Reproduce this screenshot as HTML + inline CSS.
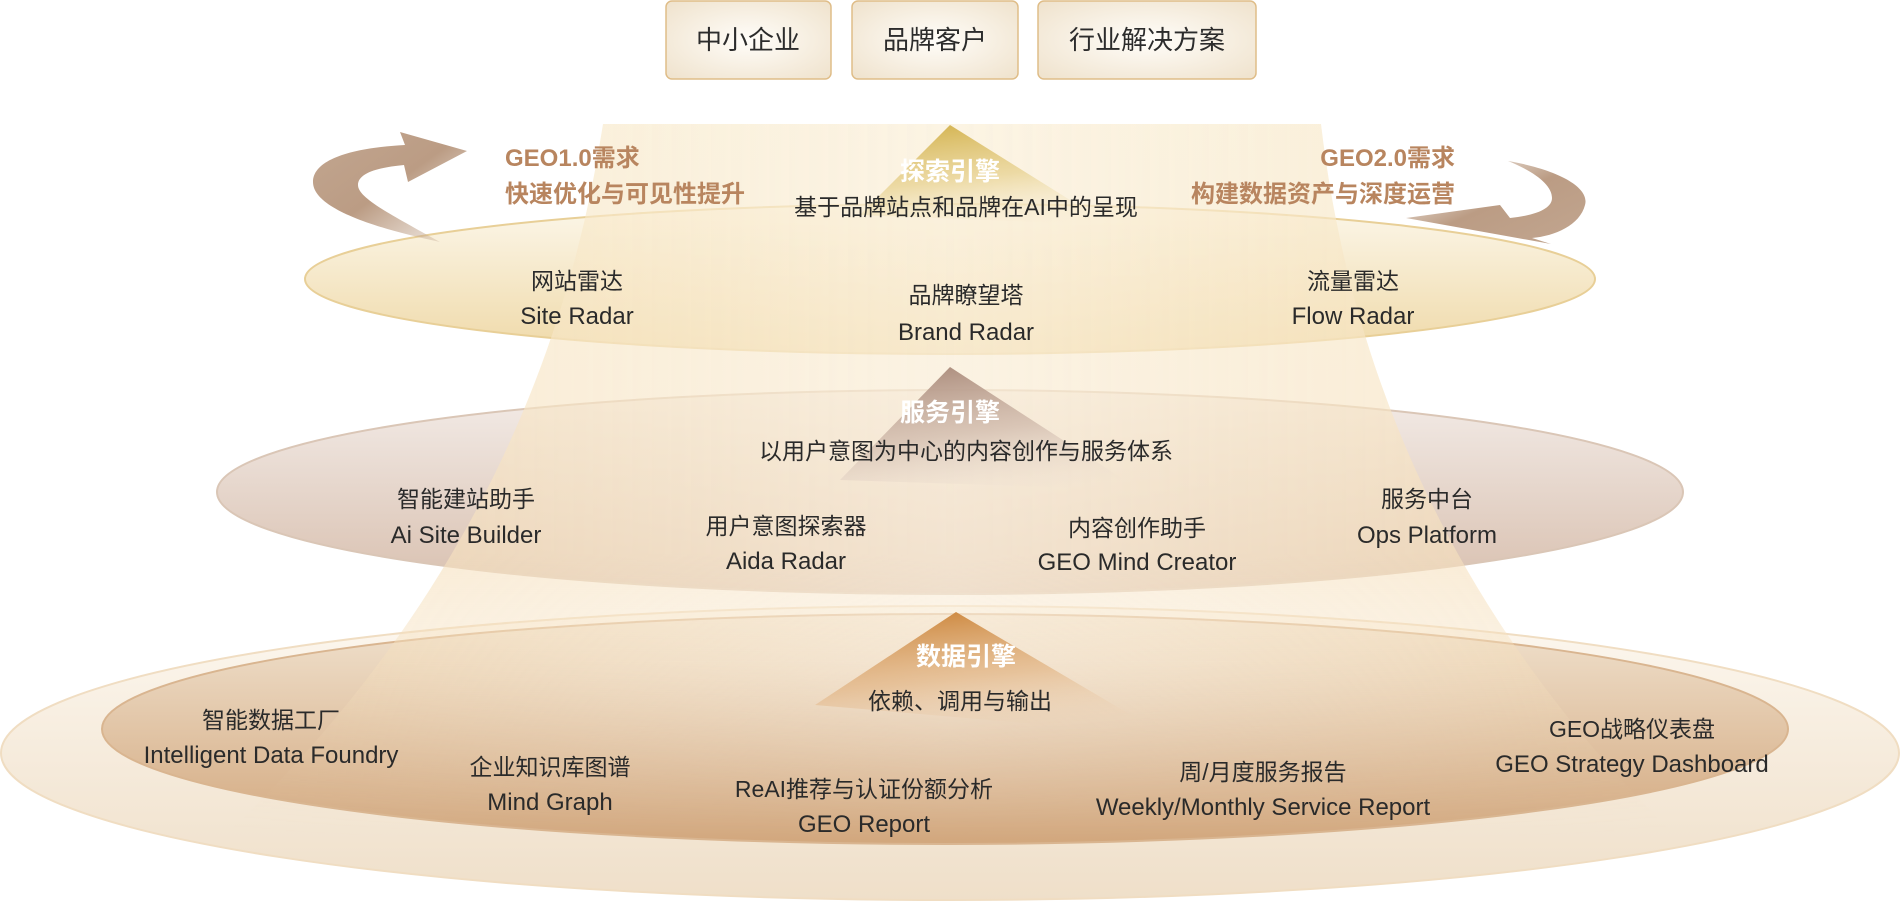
<!DOCTYPE html>
<html><head><meta charset="utf-8"><style>
html,body{margin:0;padding:0;background:#fff;}
svg{display:block}
text{font-family:"Liberation Sans","Noto Sans CJK SC",sans-serif;}
</style></head><body>
<svg width="1900" height="901" viewBox="0 0 1900 901" xmlns="http://www.w3.org/2000/svg">
<defs>
<linearGradient id="e1" x1="0" y1="0" x2="0" y2="1"><stop offset="0" stop-color="#fcf7ea"/><stop offset="1" stop-color="#efd9a8"/></linearGradient>
<linearGradient id="e2" x1="0" y1="0" x2="0" y2="1"><stop offset="0" stop-color="#f3ece8"/><stop offset="1" stop-color="#d8bfae"/></linearGradient>
<linearGradient id="e3" x1="0" y1="0" x2="0" y2="1"><stop offset="0" stop-color="#fdf8f0"/><stop offset="1" stop-color="#efdfc9"/></linearGradient>
<linearGradient id="e4" x1="0" y1="0" x2="0" y2="1"><stop offset="0" stop-color="#f1e3d0"/><stop offset="1" stop-color="#d2a77d"/></linearGradient>
<linearGradient id="beam" gradientUnits="userSpaceOnUse" x1="0" y1="124" x2="0" y2="840"><stop offset="0" stop-color="#f6e2b8" stop-opacity="0.6"/><stop offset="0.6" stop-color="#f5dcb4" stop-opacity="0.6"/><stop offset="1" stop-color="#f3d9b0" stop-opacity="0"/></linearGradient>
<linearGradient id="beamh" gradientUnits="userSpaceOnUse" x1="250" y1="0" x2="1650" y2="0"><stop offset="0" stop-color="#fff" stop-opacity="0"/><stop offset="0.5" stop-color="#fff" stop-opacity="0.35"/><stop offset="1" stop-color="#fff" stop-opacity="0"/></linearGradient>
<linearGradient id="fade" x1="0" y1="0" x2="0" y2="1"><stop offset="0" stop-color="#fff"/><stop offset="0.75" stop-color="#fff"/><stop offset="1" stop-color="#000"/></linearGradient>
<mask id="m"><rect x="0" y="124" width="1900" height="716" fill="url(#fade)"/></mask>
<linearGradient id="t1" x1="0.4" y1="0" x2="0.7" y2="1"><stop offset="0" stop-color="#d6b758"/><stop offset="0.5" stop-color="#e6cf8a" stop-opacity="0.7"/><stop offset="1" stop-color="#f5e9c9" stop-opacity="0"/></linearGradient>
<linearGradient id="t2" x1="0.4" y1="0" x2="0.7" y2="1"><stop offset="0" stop-color="#b09282"/><stop offset="0.5" stop-color="#cdb6a8" stop-opacity="0.7"/><stop offset="1" stop-color="#e8dcd4" stop-opacity="0"/></linearGradient>
<linearGradient id="t3" x1="0.4" y1="0" x2="0.7" y2="1"><stop offset="0" stop-color="#cf8c45"/><stop offset="0.5" stop-color="#e2b585" stop-opacity="0.7"/><stop offset="1" stop-color="#eed8c0" stop-opacity="0"/></linearGradient>
<radialGradient id="box" cx="0.5" cy="0.5" r="0.7"><stop offset="0" stop-color="#fffdf9"/><stop offset="1" stop-color="#efe2cc"/></radialGradient>
<linearGradient id="al" x1="1" y1="1" x2="0" y2="0"><stop offset="0" stop-color="#c8ae98" stop-opacity="0.2"/><stop offset="0.5" stop-color="#bb9c84"/><stop offset="1" stop-color="#c2a690"/></linearGradient>
<linearGradient id="ar" x1="0" y1="0" x2="1" y2="1"><stop offset="0" stop-color="#c8ae98" stop-opacity="0.1"/><stop offset="0.5" stop-color="#bb9c84"/><stop offset="1" stop-color="#c2a690"/></linearGradient>
</defs>

<ellipse cx="950" cy="753" rx="949" ry="147" fill="url(#e3)" stroke="#f0ddc2" stroke-width="2"/>
<ellipse cx="945" cy="729" rx="843" ry="115" fill="url(#e4)" stroke="#d9b590" stroke-width="2"/>
<ellipse cx="950" cy="492" rx="733" ry="102" fill="url(#e2)" stroke="#dac6b6" stroke-width="2"/>
<ellipse cx="950" cy="279" rx="645" ry="75" fill="url(#e1)" stroke="#e8cf97" stroke-width="2"/>

<g mask="url(#m)">
<path d="M603,124 L1321,124 Q1370,540 1680,840 L220,840 Q540,540 603,124 Z" fill="url(#beam)"/>
<path d="M603,124 L1321,124 Q1370,540 1680,840 L220,840 Q540,540 603,124 Z" fill="url(#beamh)"/>
</g>

<polygon points="950,125 860,215 1110,225" fill="url(#t1)"/>
<polygon points="950,367 840,480 1140,490" fill="url(#t2)"/>
<polygon points="956,612 815,705 1165,735" fill="url(#t3)"/>

<path d="M440,242 C360,225 313,205 313,182 C313,160 350,148 405,145 L400,132 L467,151 L408,182 L404,165 C372,168 358,175 358,185 C358,198 390,214 440,242 Z" fill="url(#al)"/>
<path d="M1508,161 C1560,170 1590,188 1585,205 C1580,225 1555,236 1532,238 L1551,244 L1406,218 L1500,205 L1510,218 C1538,215 1552,208 1552,198 C1552,185 1535,172 1508,161 Z" fill="url(#ar)"/>

<rect x="666" y="1" width="165" height="78" rx="6" fill="url(#box)" stroke="#dfbd88" stroke-width="1.5"/>
<rect x="852" y="1" width="166" height="78" rx="6" fill="url(#box)" stroke="#dfbd88" stroke-width="1.5"/>
<rect x="1038" y="1" width="218" height="78" rx="6" fill="url(#box)" stroke="#dfbd88" stroke-width="1.5"/>
<g font-size="26" fill="#2c2c2c" text-anchor="middle">
<text x="748" y="49">中小企业</text>
<text x="935" y="49">品牌客户</text>
<text x="1147" y="49">行业解决方案</text>
</g>

<g font-size="24" font-weight="bold" fill="#b8855f">
<text x="505" y="166">GEO1.0需求</text>
<text x="505" y="202">快速优化与可见性提升</text>
<text x="1455" y="166" text-anchor="end">GEO2.0需求</text>
<text x="1455" y="202" text-anchor="end">构建数据资产与深度运营</text>
</g>

<g font-size="25" font-weight="bold" fill="#fff" text-anchor="middle">
<text x="950" y="180">探索引擎</text>
<text x="950" y="421">服务引擎</text>
<text x="966" y="665">数据引擎</text>
</g>

<g font-size="23" fill="#2a2a2a" text-anchor="middle">
<text x="966" y="215">基于品牌站点和品牌在AI中的呈现</text>
<text x="577" y="289">网站雷达</text>
<text x="966" y="303">品牌瞭望塔</text>
<text x="1353" y="289">流量雷达</text>
<text x="966" y="459">以用户意图为中心的内容创作与服务体系</text>
<text x="466" y="507">智能建站助手</text>
<text x="786" y="534">用户意图探索器</text>
<text x="1137" y="536">内容创作助手</text>
<text x="1427" y="507">服务中台</text>
<text x="960" y="709">依赖、调用与输出</text>
<text x="271" y="728">智能数据工厂</text>
<text x="550" y="775">企业知识库图谱</text>
<text x="864" y="797">ReAI推荐与认证份额分析</text>
<text x="1263" y="780">周/月度服务报告</text>
<text x="1632" y="737">GEO战略仪表盘</text>
</g>
<g font-size="24" fill="#2a2a2a" text-anchor="middle">
<text x="577" y="324">Site Radar</text>
<text x="966" y="340">Brand Radar</text>
<text x="1353" y="324">Flow Radar</text>
<text x="466" y="543">Ai Site Builder</text>
<text x="786" y="569">Aida Radar</text>
<text x="1137" y="570">GEO Mind Creator</text>
<text x="1427" y="543">Ops Platform</text>
<text x="271" y="763">Intelligent Data Foundry</text>
<text x="550" y="810">Mind Graph</text>
<text x="864" y="832">GEO Report</text>
<text x="1263" y="815">Weekly/Monthly Service Report</text>
<text x="1632" y="772">GEO Strategy Dashboard</text>
</g>
</svg>
</body></html>
